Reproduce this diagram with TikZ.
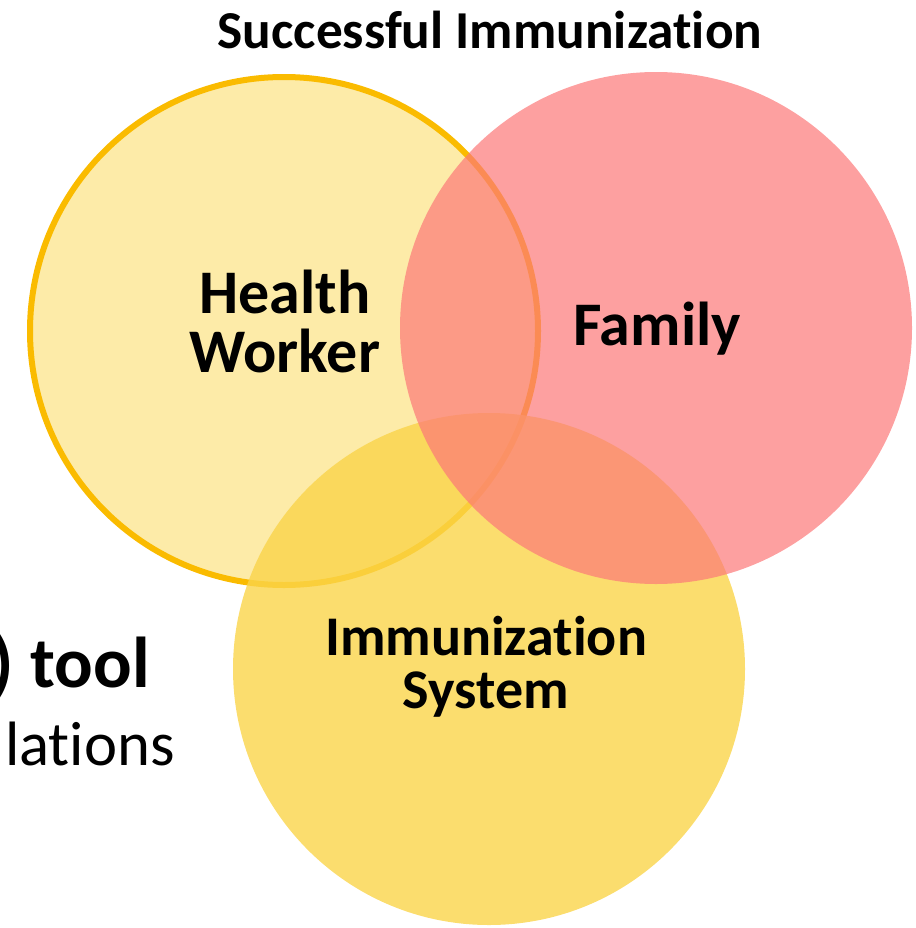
\documentclass[tikz,border=0pt]{standalone}
\usepackage{fontspec}
\setmainfont{Carlito}[Ligatures={NoCommon,NoDiscretionary}]
\definecolor{hwfill}{RGB}{253,235,168}
\definecolor{hwline}{RGB}{250,187,0}
\definecolor{famfill}{RGB}{252,120,120}
\definecolor{sysfill}{RGB}{250,212,74}
\tikzset{
  venn/.style={circle, inner sep=0pt, outer sep=0pt},
  biglabel/.style={anchor=base, inner sep=0pt, font=\bfseries\fontsize{46.5}{50}\selectfont},
  syslabel/.style={anchor=base, inner sep=0pt, font=\bfseries\fontsize{42}{46}\selectfont},
}
\begin{document}
\begin{tikzpicture}[x=0.75pt,y=-0.75pt]
\useasboundingbox (0,0) rectangle (916,928);
\begin{scope}
\clip (0,0) rectangle (916,928);
% text partly hidden at the left edge
\node[anchor=base east, inner sep=0pt, font=\bfseries\fontsize{54}{60}\selectfont] (tool) at (150,687) {) tool};
\node[anchor=base east, inner sep=0pt, font=\fontsize{47}{52}\selectfont] (rel) at (175,765) {lations};
% the three circles
\node[venn, minimum size=381pt, fill=hwfill, draw=hwline, line width=4.5pt] (hw) at (284,331) {};
\node[venn, minimum size=384pt, fill=sysfill, fill opacity=0.8] (sys) at (489,669) {};
\node[venn, minimum size=384pt, fill=famfill, fill opacity=0.7] (fam) at (656,328) {};
\end{scope}
% labels
\node[anchor=base, inner sep=0pt, font=\bfseries\fontsize{40}{48}\selectfont] (title) at (490,48) {Successful Immunization};
\node[biglabel] (hw1) at (285,313) {Health};
\node[biglabel] (hw2) at (285,372) {Worker};
\node[biglabel] (fam1) at (657,345) {Family};
\node[syslabel] (sys1) at (486,655) {Immunization};
\node[syslabel] (sys2) at (486,708) {System};
\end{tikzpicture}
\end{document}
